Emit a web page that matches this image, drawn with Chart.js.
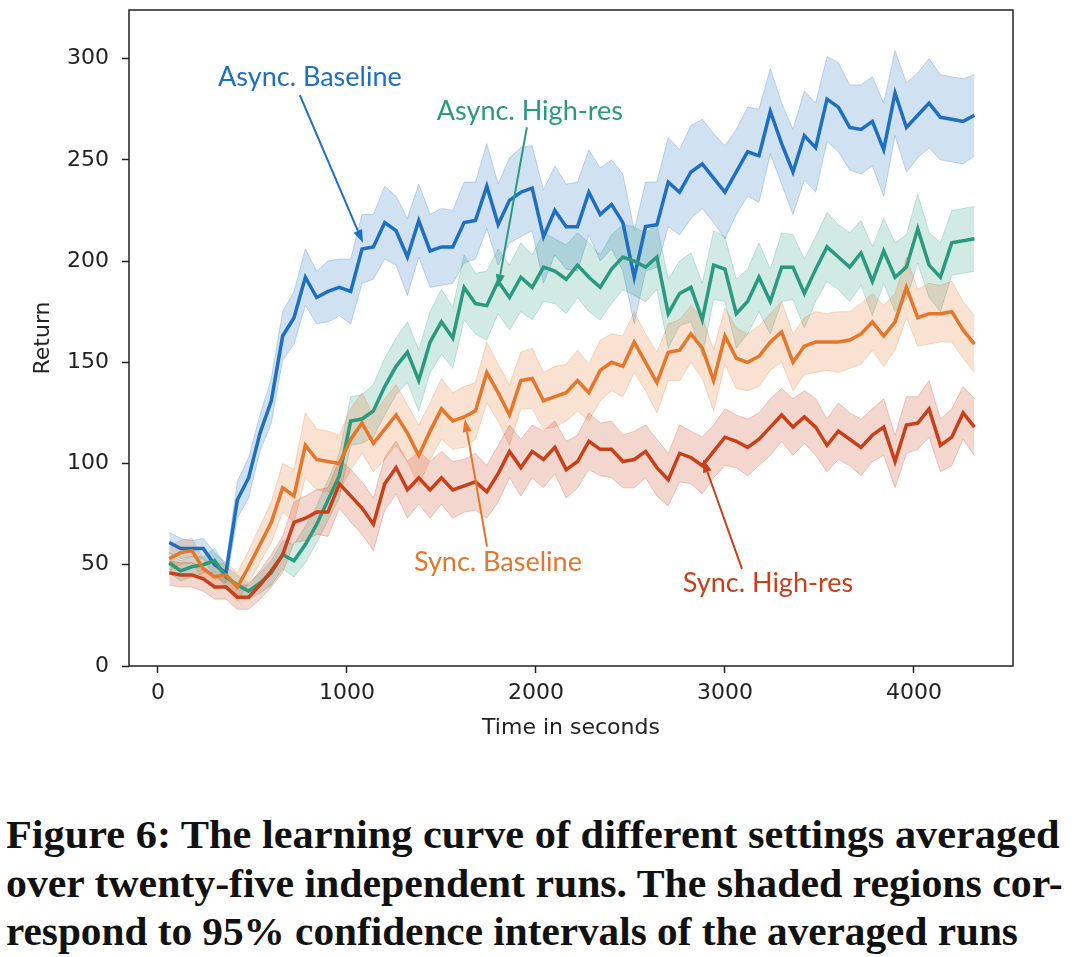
<!DOCTYPE html>
<html>
<head>
<meta charset="utf-8">
<script src="https://cdn.jsdelivr.net/npm/chart.js@4.4.1/dist/chart.umd.min.js"></script>
<style>
  html, body { margin: 0; padding: 0; background: #fff; }
  #wrap { position: relative; width: 1076px; height: 957px; overflow: hidden; }
  #chart { position: absolute; left: 0; top: 0; }
  .cap {
    position: absolute; left: 6px;
    font-family: "Liberation Serif", serif; font-weight: bold;
    font-size: 39px; line-height: 38px; white-space: nowrap;
    color: #111; transform-origin: 0 0;
  }
</style>
</head>
<body>
<div id="wrap">
  <canvas id="chart" width="1076" height="760"></canvas>
  <div class="cap" id="cap1" style="top:816px">Figure 6: The learning curve of different settings averaged</div>
  <div class="cap" id="cap2" style="top:865px">over twenty-five independent runs. The shaded regions cor-</div>
  <div class="cap" id="cap3" style="top:913px">respond to 95% confidence intervals of the averaged runs</div>
</div>
<script>
const TIMES = [
  60, 120, 180, 240, 300, 360, 420, 480, 540, 600, 660, 720,
  780, 840, 900, 960, 1020, 1080, 1140, 1200, 1260, 1320, 1380, 1440,
  1500, 1560, 1620, 1680, 1740, 1800, 1860, 1920, 1980, 2040, 2100, 2160,
  2220, 2280, 2340, 2400, 2460, 2520, 2580, 2640, 2700, 2760, 2820, 2880,
  2940, 3000, 3060, 3120, 3180, 3240, 3300, 3360, 3420, 3480, 3540, 3600,
  3660, 3720, 3780, 3840, 3900, 3960, 4020, 4080, 4140, 4200, 4260, 4320
];
const X_TICKS = [0, 1000, 2000, 3000, 4000];
const Y_TICKS = [0, 50, 100, 150, 200, 250, 300];

const ASYNC_BASELINE = [
  61, 58, 58, 58, 50, 46, 82, 93, 115, 131, 163, 172,
  192, 182, 185, 187, 185, 206, 207, 219, 215, 202, 220, 205,
  207, 207, 219, 220, 237, 218, 230, 234, 236, 212, 225, 217,
  217, 234, 223, 228, 219, 192, 217, 218, 239, 234, 244, 248,
  241, 234, 244, 254, 252, 274, 258, 244, 262, 256, 280, 276,
  266, 265, 269, 255, 283, 266, 272, 278, 271, 270, 269, 272
];
const ASYNC_BASELINE_CI = [
  5, 5, 4, 5, 6, 5, 9, 10, 9, 11, 12, 13,
  14, 13, 15, 14, 16, 17, 16, 18, 17, 19, 18, 18,
  19, 18, 20, 19, 21, 20, 21, 22, 21, 23, 22, 21,
  22, 21, 23, 22, 24, 23, 22, 21, 22, 21, 23, 22,
  22, 23, 21, 22, 23, 21, 20, 21, 22, 22, 21, 22,
  21, 22, 22, 23, 21, 22, 21, 22, 21, 21, 21, 20
];

const ASYNC_HIGHRES = [
  51, 47, 49, 50, 52, 44, 40, 37, 41, 46, 55, 52,
  60, 70, 82, 94, 121, 122, 126, 138, 148, 155, 141, 160,
  170, 162, 187, 179, 178, 190, 182, 192, 187, 197, 195, 191,
  198, 192, 187, 196, 202, 200, 197, 202, 174, 184, 187, 171,
  198, 196, 174, 180, 192, 180, 197, 197, 184, 196, 207, 202,
  197, 204, 190, 205, 192, 197, 216, 198, 192, 209, 210, 211
];
const ASYNC_HIGHRES_CI = [
  5, 5, 5, 4, 6, 5, 5, 4, 5, 6, 7, 8,
  9, 9, 10, 11, 12, 12, 13, 14, 14, 15, 15, 15,
  16, 15, 16, 15, 17, 16, 16, 17, 16, 17, 16, 17,
  16, 17, 16, 17, 16, 17, 17, 16, 17, 16, 17, 18,
  17, 16, 17, 16, 17, 16, 17, 16, 17, 16, 17, 16,
  17, 16, 17, 16, 17, 16, 17, 16, 17, 16, 16, 16
];

const SYNC_BASELINE = [
  53, 56, 57, 48, 44, 45, 39, 49, 60, 71, 88, 84,
  109, 102, 101, 100, 112, 120, 110, 117, 124, 115, 104, 116,
  127, 121, 123, 126, 145, 135, 124, 141, 142, 131, 133, 135,
  141, 135, 146, 150, 148, 160, 150, 140, 155, 156, 164, 157,
  141, 163, 152, 150, 153, 160, 165, 150, 158, 160, 160, 160,
  161, 164, 170, 163, 170, 187, 172, 174, 174, 175, 166, 159
];
const SYNC_BASELINE_CI = [
  6, 6, 6, 5, 6, 6, 7, 8, 9, 10, 12, 13,
  16, 15, 15, 14, 15, 15, 14, 15, 15, 14, 15, 14,
  15, 14, 15, 14, 15, 14, 15, 14, 15, 14, 15, 14,
  15, 14, 15, 14, 15, 15, 14, 15, 14, 15, 14, 15,
  15, 14, 15, 14, 15, 14, 15, 14, 14, 15, 14, 15,
  14, 15, 14, 15, 14, 15, 14, 15, 14, 15, 14, 14
];

const SYNC_HIGHRES = [
  46, 45, 45, 43, 39, 39, 34, 34, 40, 47, 55, 71,
  73, 76, 76, 90, 84, 78, 70, 90, 98, 87, 93, 87,
  93, 87, 89, 91, 86, 95, 106, 98, 106, 102, 108, 97,
  101, 111, 107, 107, 101, 102, 106, 98, 92, 105, 103, 99,
  106, 113, 111, 108, 112, 118, 124, 118, 123, 118, 109, 116,
  112, 108, 114, 118, 101, 119, 120, 127, 109, 113, 125, 118
];
const SYNC_HIGHRES_CI = [
  6, 6, 6, 6, 6, 6, 6, 6, 7, 8, 9, 10,
  11, 11, 12, 12, 13, 13, 13, 13, 13, 14, 13, 14,
  13, 14, 13, 14, 13, 14, 13, 14, 13, 14, 13, 14,
  13, 14, 13, 14, 13, 14, 13, 14, 13, 14, 13, 14,
  13, 14, 13, 14, 13, 14, 13, 14, 13, 14, 13, 14,
  13, 14, 13, 14, 13, 14, 13, 14, 13, 14, 13, 14
];

// name, mean, ci half-width, rgb colour
const SERIES = [
  ["Async. Baseline", ASYNC_BASELINE, ASYNC_BASELINE_CI, [31, 111, 191]],
  ["Async. High-res", ASYNC_HIGHRES, ASYNC_HIGHRES_CI, [42, 154, 126]],
  ["Sync. Baseline", SYNC_BASELINE, SYNC_BASELINE_CI, [229, 118, 42]],
  ["Sync. High-res", SYNC_HIGHRES, SYNC_HIGHRES_CI, [200, 64, 26]],
];

// text centre, arrow tail, arrow tip — in data units (seconds, return)
const NOTES = [
  { s: 0, at: [804, 291], from: [751, 282], to: [1085, 209] },
  { s: 1, at: [1968, 274], from: [1952, 266], to: [1799, 187] },
  { s: 2, at: [1799, 51], from: [1741, 59], to: [1624, 122] },
  { s: 3, at: [3228, 41], from: [3090, 48], to: [2884, 102] },
];

const rgba = (c, a) => `rgba(${c[0]},${c[1]},${c[2]},${a})`;
const pts = (vals) => vals.map((v, i) => ({ x: TIMES[i], y: v }));

const datasets = [];
SERIES.forEach(([name, mean, ci, col], i) => {
  const lowerIndex = datasets.length + 1;
  datasets.push({
    label: name + " upper",
    data: pts(mean.map((m, j) => m + ci[j])),
    borderColor: rgba(col, 0.25), borderWidth: 1,
    backgroundColor: rgba(col, 0.21),
    fill: lowerIndex, pointRadius: 0, order: 20 - i * 2,
  });
  datasets.push({
    label: name + " lower",
    data: pts(mean.map((m, j) => m - ci[j])),
    borderColor: rgba(col, 0.25), borderWidth: 1,
    fill: false, pointRadius: 0, order: 19 - i * 2,
  });
});
SERIES.forEach(([name, mean, ci, col], i) => {
  datasets.push({
    label: name,
    data: pts(mean),
    borderColor: rgba(col, 1), borderWidth: 3.5,
    fill: false, pointRadius: 0, order: 4 - i,
    borderJoinStyle: "miter",
  });
});

const frameAndNotes = {
  id: "frameAndNotes",
  afterDatasetsDraw(chart) {
    const { ctx, chartArea: a, scales: { x, y } } = chart;
    ctx.save();
    ctx.strokeStyle = "#222";
    ctx.lineWidth = 1.5;
    ctx.strokeRect(a.left, a.top, a.right - a.left, a.bottom - a.top);

    ctx.font = "27px Lato";
    ctx.textAlign = "center";
    ctx.textBaseline = "middle";
    for (const n of NOTES) {
      const col = rgba(SERIES[n.s][3], 1);
      ctx.fillStyle = col;
      ctx.strokeStyle = col;
      ctx.fillText(SERIES[n.s][0], x.getPixelForValue(n.at[0]), y.getPixelForValue(n.at[1]));

      const x0 = x.getPixelForValue(n.from[0]), y0 = y.getPixelForValue(n.from[1]);
      const x1 = x.getPixelForValue(n.to[0]), y1 = y.getPixelForValue(n.to[1]);
      const ang = Math.atan2(y1 - y0, x1 - x0);
      const head = 13, half = 4.5;
      const bx = x1 - head * Math.cos(ang), by = y1 - head * Math.sin(ang);
      ctx.lineWidth = 2;
      ctx.beginPath();
      ctx.moveTo(x0, y0);
      ctx.lineTo(bx, by);
      ctx.stroke();
      ctx.beginPath();
      ctx.moveTo(x1, y1);
      ctx.lineTo(bx + half * Math.sin(ang), by - half * Math.cos(ang));
      ctx.lineTo(bx - half * Math.sin(ang), by + half * Math.cos(ang));
      ctx.closePath();
      ctx.fill();
    }
    ctx.restore();
  },
};

const tickFont = { family: "DejaVu Sans", size: 22 };

new Chart(document.getElementById("chart"), {
  type: "line",
  data: { datasets },
  options: {
    responsive: false,
    maintainAspectRatio: false,
    animation: false,
    devicePixelRatio: 1,
    parsing: false,
    layout: { padding: { left: 0, top: 10, right: 63, bottom: 0 } },
    plugins: {
      legend: { display: false },
      tooltip: { enabled: false },
      filler: { propagate: false },
    },
    scales: {
      x: {
        type: "linear",
        min: -153,
        max: 4524,
        afterBuildTicks: (s) => { s.ticks = X_TICKS.map((v) => ({ value: v })); },
        afterFit: (s) => { s.height = 94; s.paddingLeft = 0; s.paddingRight = 0; },
        ticks: { font: tickFont, color: "#222", padding: 7, maxRotation: 0, autoSkip: false, callback: (v) => String(v) },
        grid: { drawOnChartArea: false, drawTicks: true, tickLength: 7, tickWidth: 1.5, color: "#222" },
        border: { display: false },
        title: { display: true, text: "Time in seconds", font: tickFont, color: "#222", padding: { top: 0, bottom: 19 } },
      },
      y: {
        min: 0,
        max: 324,
        afterBuildTicks: (s) => { s.ticks = Y_TICKS.map((v) => ({ value: v })); },
        afterFit: (s) => { s.width = 129; s.paddingTop = 0; s.paddingBottom = 0; },
        ticks: { font: tickFont, color: "#222", padding: 13, callback: (v) => String(v) },
        grid: { drawOnChartArea: false, drawTicks: true, tickLength: 7, tickWidth: 1.5, color: "#222" },
        border: { display: false },
        title: { display: true, text: "Return", font: tickFont, color: "#222", padding: { top: 30, bottom: 0 } },
      },
    },
  },
  plugins: [frameAndNotes],
});

// stretch each caption line to the measured width of the reference
const CAPTION_WIDTHS = { cap1: 1054, cap2: 1057, cap3: 1012 };
for (const [id, w] of Object.entries(CAPTION_WIDTHS)) {
  const el = document.getElementById(id);
  el.style.display = "inline-block";
  el.style.transform = `scaleX(${w / el.offsetWidth})`;
}
</script>
</body>
</html>
